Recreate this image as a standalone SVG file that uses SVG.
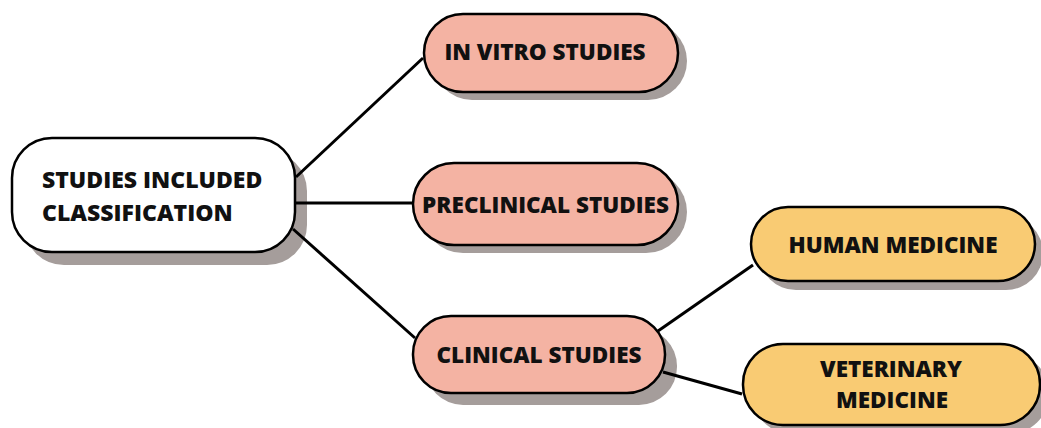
<svg xmlns="http://www.w3.org/2000/svg" width="1041" height="428" viewBox="0 0 1041 428">
<style>
.sh{fill:#a59d9b}
.box{stroke:#000;stroke-width:2.5}
.w{fill:#ffffff}
.p{fill:#f4b3a3}
.y{fill:#f9cb73}
.t{font-family:"Open Sans","Liberation Sans",sans-serif;font-weight:800;font-size:22.5px;fill:#111}
.b{font-size:23px}
.c{text-anchor:middle}
.ln{stroke:#000;stroke-width:3;fill:none}
</style>
<g id="n1">
<rect class="sh" x="24" y="151" width="283" height="114" rx="40"/>
<rect class="box w" x="12" y="138" width="283" height="114" rx="40"/>
<text class="t b" x="42" y="188">STUDIES INCLUDED</text>
<text class="t b" x="42" y="221">CLASSIFICATION</text>
</g>
<g id="n2">
<rect class="sh" x="433" y="22" width="254" height="78" rx="39"/>
<rect class="box p" x="424" y="14" width="254" height="78" rx="39"/>
<text class="t c" x="545" y="60">IN VITRO STUDIES</text>
</g>
<g id="n3">
<rect class="sh" x="422" y="171" width="265" height="82" rx="41"/>
<rect class="box p" x="413" y="163" width="265" height="82" rx="41"/>
<text class="t c" x="545.5" y="213">PRECLINICAL STUDIES</text>
</g>
<g id="n4">
<rect class="sh" x="425" y="328" width="252" height="77" rx="38"/>
<rect class="box p" x="413" y="316" width="252" height="77" rx="38"/>
<text class="t c" x="539" y="363">CLINICAL STUDIES</text>
</g>
<g id="n5">
<rect class="sh" x="759" y="216" width="284" height="74" rx="37"/>
<rect class="box y" x="751" y="207" width="284" height="74" rx="37"/>
<text class="t c" x="893" y="253">HUMAN MEDICINE</text>
</g>
<g id="n6">
<rect class="sh" x="752" y="353" width="297" height="81" rx="40"/>
<rect class="box y" x="743" y="344" width="297" height="81" rx="40"/>
<text class="t c" x="891" y="377">VETERINARY</text>
<text class="t c" x="892" y="408">MEDICINE</text>
</g>
<g id="connectors">
<line class="ln" x1="296" y1="177" x2="423" y2="58"/>
<line class="ln" x1="296" y1="203" x2="413" y2="203"/>
<line class="ln" x1="293" y1="229" x2="415" y2="338"/>
<line class="ln" x1="658" y1="331" x2="753" y2="265"/>
<line class="ln" x1="663" y1="372" x2="742" y2="394"/>
</g>
</svg>
